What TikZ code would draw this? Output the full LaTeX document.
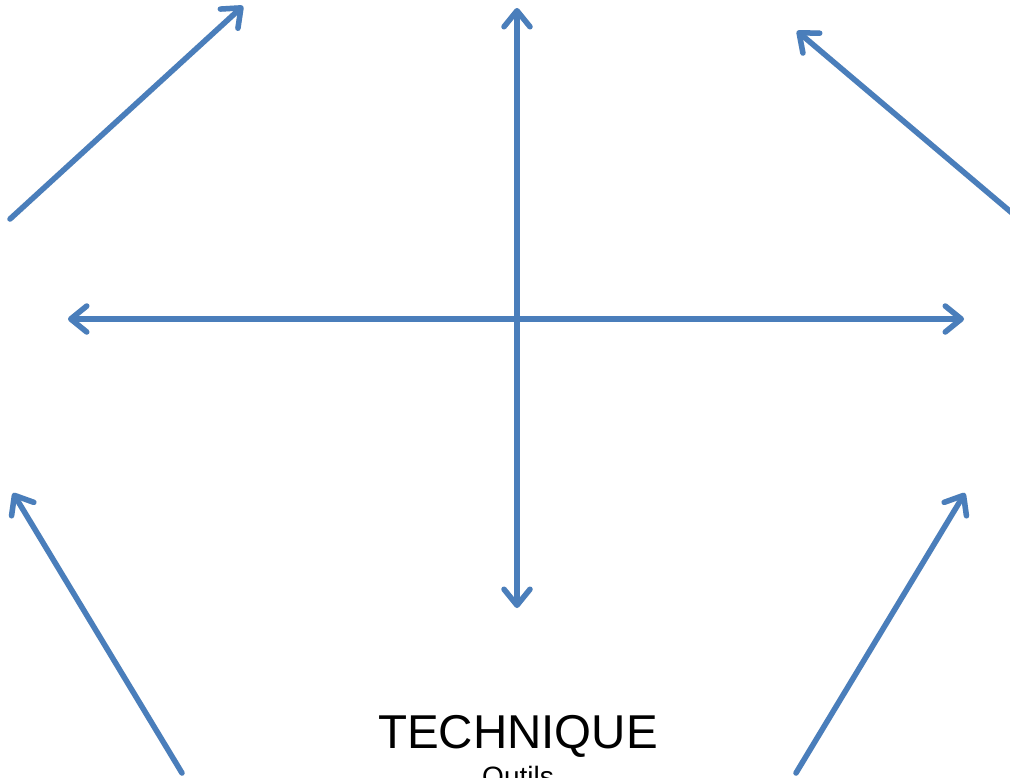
\documentclass[tikz,border=0pt]{standalone}
\usepackage{fontspec}
\setmainfont{Liberation Sans}
\usetikzlibrary{arrows.meta}
\definecolor{arrowblue}{RGB}{74,126,187}
\begin{document}
\begin{tikzpicture}[x=1pt,y=-1pt,
  tip/.style={arrows={-{Straight Barb[length=16pt,width=26pt,round]}}},
  dtip/.style={arrows={{Straight Barb[length=16pt,width=26pt,round]}-{Straight Barb[length=16pt,width=26pt,round]}}},
  conn/.style={draw=arrowblue,line width=5.5pt,line cap=round,tip},
  dconn/.style={conn,dtip},
  shadowline/.style={draw=black!25,line width=5.5pt,line cap=round,opacity=0.35,tip},
  dshadow/.style={shadowline,dtip},
  lbl/.style={inner sep=0pt,text=black}]
\useasboundingbox (0,0) rectangle (1010,777);
\fill[white] (0,0) rectangle (1010,777);
% endpoints
\coordinate (tlS) at (10,219); \coordinate (tlE) at (243,6);
\coordinate (vT) at (517,8); \coordinate (vB) at (517,608);
\coordinate (trS) at (1012,213); \coordinate (trE) at (797,31);
\coordinate (hL) at (68,319); \coordinate (hR) at (964,319);
\coordinate (blS) at (182,773); \coordinate (blE) at (13,493);
\coordinate (brS) at (796,773); \coordinate (brE) at (965,493);
% shadows
\begin{scope}[shift={(2,3)}]
\draw[shadowline] (tlS) -- (tlE);
\draw[dshadow] (vB) -- (vT);
\draw[shadowline] (trS) -- (trE);
\draw[dshadow] (hL) -- (hR);
\draw[shadowline] (blS) -- (blE);
\draw[shadowline] (brS) -- (brE);
\end{scope}
% connectors
\draw[conn] (tlS) -- (tlE);
\draw[dconn] (vB) -- (vT);
\draw[conn] (trS) -- (trE);
\draw[dconn] (hL) -- (hR);
\draw[conn] (blS) -- (blE);
\draw[conn] (brS) -- (brE);
% texts
\node[lbl,anchor=base,font=\fontsize{47.5}{50}\selectfont] (tech) at (518,748) {TECHNIQUE};
\node[lbl,anchor=base,font=\fontsize{28}{30}\selectfont] (outils) at (518,786) {Outils};
\end{tikzpicture}
\end{document}
